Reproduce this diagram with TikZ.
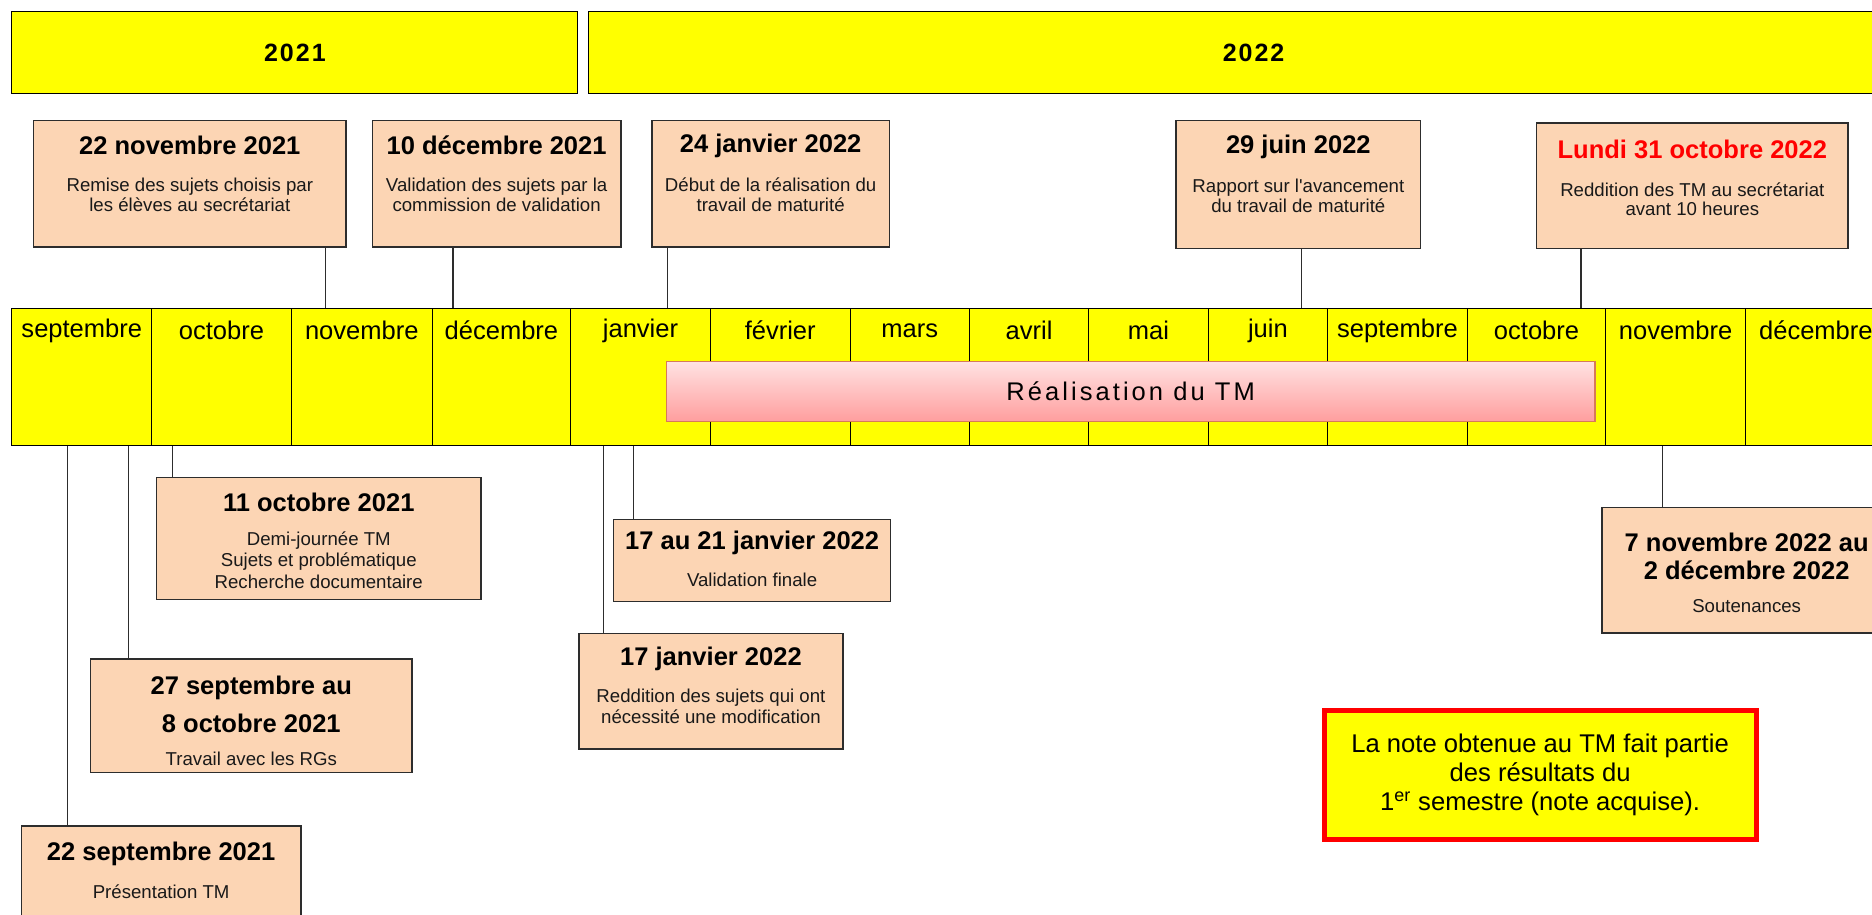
\documentclass[tikz,border=0pt]{standalone}
\usepackage{fontspec}
\setmainfont{Liberation Sans}
\newfontfamily\barfont[LetterSpace=12]{Liberation Sans}
\newfontfamily\yearfont[LetterSpace=8]{Liberation Sans}
\usetikzlibrary{positioning}

\newlength{\ux}
\setlength{\ux}{0.025cm}

\definecolor{tmyellow}{RGB}{255,255,0}
\definecolor{tmpeach}{RGB}{252,213,180}
\definecolor{tmframe}{RGB}{45,45,45}
\definecolor{barborder}{RGB}{214,122,90}
\definecolor{bartop}{RGB}{255,226,226}
\definecolor{barbottom}{RGB}{255,158,158}

\newcommand{\titlefont}{\fontsize{15.2}{17.1}\selectfont\bfseries}
\newcommand{\bodyfont}{\fontsize{11.1}{11.7}\selectfont}

\begin{document}
\begin{tikzpicture}[x=0.025cm, y=-0.025cm]

  \tikzstyle{yearbox}=[draw=black,fill=tmyellow,line width=0.6pt,inner sep=0pt,minimum height=68\ux,font=\yearfont\fontsize{14.9}{17}\selectfont\bfseries]
  \tikzstyle{monthcell}=[draw=black,fill=tmyellow,line width=0.6pt,inner sep=0pt,minimum height=115\ux]
  \tikzstyle{monthlab}=[inner sep=0pt,font=\fontsize{15.2}{17}\selectfont]
  \tikzstyle{barbox}=[draw=barborder,top color=bartop,bottom color=barbottom,line width=0.8pt,inner sep=0pt,minimum width=778\ux,minimum height=50\ux,font=\barfont\fontsize{15.2}{17}\selectfont]

  \tikzstyle{evbox}=[draw=tmframe,fill=tmpeach,line width=0.9pt,inner sep=0pt]
  \tikzstyle{evtitle}=[inner sep=0pt,align=center,font=\titlefont]
  \tikzstyle{evbody}=[inner sep=0pt,align=center,text=black!90,font=\bodyfont]
  \tikzstyle{notebox}=[draw=red,fill=tmyellow,line width=3pt,inner sep=0pt,minimum width=362\ux,minimum height=108\ux,align=center,font=\fontsize{15.26}{17.4}\selectfont]

  \tikzstyle{tick}=[draw=tmframe,line width=0.8pt]

  \useasboundingbox (0,0) rectangle (1568,766);
  \clip (0,0) rectangle (1568,766);

  % years
  \node[yearbox,minimum width=474\ux] (y2021) at (247,44) {2021};
  \node[yearbox,minimum width=1114\ux] (y2022) at (1050,44) {2022};

  % months
  \foreach \i/\l/\r/\mname in {1/10/127/septembre, 2/127/244/octobre, 3/244/362/novembre,
      4/362/478/décembre, 5/478/595/janvier, 6/595/712/février, 7/712/812/mars,
      8/812/912/avril, 9/912/1012/mai, 10/1012/1112/juin, 11/1112/1229/septembre,
      12/1229/1345/octobre, 13/1345/1462/novembre, 14/1462/1580/décembre} {
    \pgfmathsetmacro{\cx}{(\l+\r)/2}
    \pgfmathsetmacro{\cw}{\r-\l}
    \node[monthcell,minimum width=\cw\ux] (m\i) at (\cx,315.5) {};
    \node[monthlab] (ml\i) at (\cx,277) {\mname};
  }

  \node[barbox] (tm) at (947,328) {Réalisation du TM};

  % events above
  \node[evbox,minimum width=262\ux,minimum height=106\ux] (nov21) at (159,154) {};
  \node[evtitle] (nov21t) at (159,122) {22 novembre 2021};
  \node[evbody] (nov21b) at (159,163) {Remise des sujets choisis par\\les élèves au secrétariat};

  \node[evbox,minimum width=208\ux,minimum height=106\ux] (dec21) at (416,154) {};
  \node[evtitle] (dec21t) at (416,122) {10 décembre 2021};
  \node[evbody] (dec21b) at (416,163) {Validation des sujets par la\\commission de validation};

  \node[evbox,minimum width=199\ux,minimum height=106\ux] (jan22) at (645.5,154) {};
  \node[evtitle] (jan22t) at (645.5,122) {24 janvier 2022};
  \node[evbody] (jan22b) at (645.5,163) {Début de la réalisation du\\travail de maturité};

  \node[evbox,minimum width=205\ux,minimum height=107\ux] (jun22) at (1087.5,154.5) {};
  \node[evtitle] (jun22t) at (1087.5,123) {29 juin 2022};
  \node[evbody] (jun22b) at (1087.5,164) {Rapport sur l\textquotesingle avancement\\du travail de maturité};

  \node[evbox,minimum width=261\ux,minimum height=105\ux] (oct22) at (1417.5,155.5) {};
  \node[evtitle,text=red] (oct22t) at (1417.5,125) {Lundi 31 octobre 2022};
  \node[evbody] (oct22b) at (1417.5,167) {Reddition des TM au secrétariat\\avant 10 heures};

  % events below
  \node[evbox,minimum width=272\ux,minimum height=102\ux] (oct21) at (267,451) {};
  \node[evtitle] (oct21t) at (267,421) {11 octobre 2021};
  \node[evbody,font=\fontsize{11.1}{12.8}\selectfont] (oct21b) at (267,469) {Demi-journée TM\\Sujets et problématique\\Recherche documentaire};

  \node[evbox,minimum width=269\ux,minimum height=95\ux] (sep27) at (210.5,599.5) {};
  \node[evtitle,font=\fontsize{15.2}{22.8}\selectfont\bfseries] (sep27t) at (210.5,590) {27 septembre au\\8 octobre 2021};
  \node[evbody] (sep27b) at (210.5,636) {Travail avec les RGs};

  \node[evbox,minimum width=234\ux,minimum height=86\ux] (sep22) at (135,735) {};
  \node[evtitle] (sep22t) at (135,715) {22 septembre 2021};
  \node[evbody] (sep22b) at (135,747) {Présentation TM};

  \node[evbox,minimum width=232\ux,minimum height=69\ux] (jan1721) at (630,469.5) {};
  \node[evtitle] (jan1721t) at (630,455) {17 au 21 janvier 2022};
  \node[evbody] (jan1721b) at (630,486) {Validation finale};

  \node[evbox,minimum width=221\ux,minimum height=97\ux] (jan17) at (595.5,579) {};
  \node[evtitle] (jan17t) at (595.5,552) {17 janvier 2022};
  \node[evbody,font=\fontsize{11.1}{12.45}\selectfont] (jan17b) at (595.5,592) {Reddition des sujets qui ont\\nécessité une modification};

  \node[evbox,minimum width=242\ux,minimum height=105\ux] (nov22) at (1463,477.5) {};
  \node[evtitle,font=\fontsize{15.2}{17.1}\selectfont\bfseries] (nov22t) at (1463,466) {7 novembre 2022 au\\2 décembre 2022};
  \node[evbody] (nov22b) at (1463,508) {Soutenances};

  % note
  \node[notebox] (note) at (1290,649) {La note obtenue au TM fait partie\\des résultats du\\1\textsuperscript{er} semestre (note acquise).};

  % ticks
  \draw[tick] ([xshift=-18\ux]nov21.south east) -- ([xshift=-18\ux]nov21.south east |- m3.north);
  \draw[tick] ([xshift=68\ux]dec21.south west) -- ([xshift=68\ux]dec21.south west |- m4.north);
  \draw[tick] ([xshift=14\ux]jan22.south west) -- ([xshift=14\ux]jan22.south west |- m5.north);
  \draw[tick] ([xshift=2.5\ux]jun22.south) -- ([xshift=2.5\ux]jun22.south |- m10.north);
  \draw[tick] ([xshift=38\ux]oct22.south west) -- ([xshift=38\ux]oct22.south west |- m12.north);

  \draw[tick] ([xshift=39\ux]sep22.north west |- m1.south) -- ([xshift=39\ux]sep22.north west);
  \draw[tick] ([xshift=32\ux]sep27.north west |- m1.south) -- ([xshift=32\ux]sep27.north west);
  \draw[tick] ([xshift=14\ux]oct21.north west |- m2.south) -- ([xshift=14\ux]oct21.north west);
  \draw[tick] ([xshift=21\ux]jan17.north west |- m5.south) -- ([xshift=21\ux]jan17.north west);
  \draw[tick] ([xshift=17\ux]jan1721.north west |- m5.south) -- ([xshift=17\ux]jan1721.north west);
  \draw[tick] ([xshift=51\ux]nov22.north west |- m13.south) -- ([xshift=51\ux]nov22.north west);

\end{tikzpicture}
\end{document}
